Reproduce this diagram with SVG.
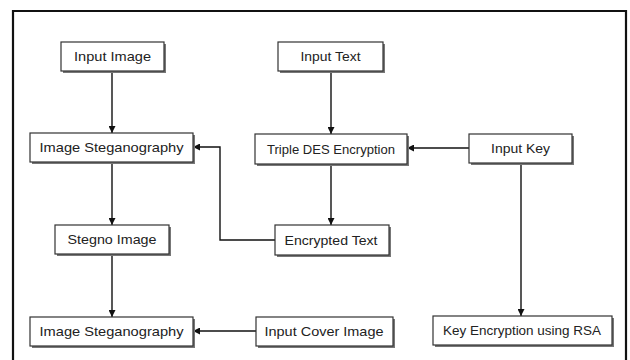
<svg xmlns="http://www.w3.org/2000/svg" width="630" height="360" viewBox="0 0 630 360">
<style>
.box{fill:#fff;stroke:#333;stroke-width:1.2}
.sh{fill:#777}
.t{font-family:"Liberation Sans","DejaVu Sans",sans-serif;font-size:13px;fill:#222;text-anchor:middle;dominant-baseline:central}
.c{fill:none;stroke:#111;stroke-width:1.4}
</style>
<defs>
<marker id="ah" viewBox="0 0 10 10" refX="10" refY="5" markerWidth="7" markerHeight="7" markerUnits="userSpaceOnUse" orient="auto">
<path d="M0,0 L10,5 L0,10 z" fill="#111"/>
</marker>
</defs>
<rect x="0" y="0" width="630" height="360" fill="#fff"/>
<path d="M13,372 L13,11 L626,11 L626,372" fill="none" stroke="#111" stroke-width="2.2"/>
<g id="connectors">
<line class="c" x1="112" y1="71" x2="112" y2="133" marker-end="url(#ah)"/>
<line class="c" x1="331" y1="71" x2="331" y2="134" marker-end="url(#ah)"/>
<line class="c" x1="469" y1="148" x2="407" y2="148" marker-end="url(#ah)"/>
<polyline class="c" points="275,240 220,240 220,147 193,147" marker-end="url(#ah)"/>
<line class="c" x1="112" y1="162" x2="112" y2="225" marker-end="url(#ah)"/>
<line class="c" x1="331" y1="164" x2="331" y2="225" marker-end="url(#ah)"/>
<line class="c" x1="112" y1="254" x2="112" y2="317" marker-end="url(#ah)"/>
<line class="c" x1="256" y1="331" x2="193" y2="331" marker-end="url(#ah)"/>
<line class="c" x1="521" y1="163" x2="521" y2="316" marker-end="url(#ah)"/>
</g>
<g id="input-image"><rect class="sh" x="63" y="44" width="103" height="29"/><rect class="box" x="61" y="42" width="103" height="29"/><text class="t" x="112.5" y="56.5" textLength="77" lengthAdjust="spacingAndGlyphs">Input Image</text></g>
<g id="input-text"><rect class="sh" x="280" y="44" width="105" height="29"/><rect class="box" x="278" y="42" width="105" height="29"/><text class="t" x="330.5" y="56.5" textLength="60" lengthAdjust="spacingAndGlyphs">Input Text</text></g>
<g id="image-steg-1"><rect class="sh" x="32" y="135" width="163" height="29"/><rect class="box" x="30" y="133" width="163" height="29"/><text class="t" x="111.5" y="147.5" textLength="144" lengthAdjust="spacingAndGlyphs">Image Steganography</text></g>
<g id="triple-des"><rect class="sh" x="257" y="136" width="152" height="30"/><rect class="box" x="255" y="134" width="152" height="30"/><text class="t" x="331" y="149" textLength="128" lengthAdjust="spacingAndGlyphs">Triple DES Encryption</text></g>
<g id="input-key"><rect class="sh" x="471" y="136" width="103" height="29"/><rect class="box" x="469" y="134" width="103" height="29"/><text class="t" x="520.5" y="148.5" textLength="59" lengthAdjust="spacingAndGlyphs">Input Key</text></g>
<g id="stegno-image"><rect class="sh" x="57" y="227" width="114" height="29"/><rect class="box" x="55" y="225" width="114" height="29"/><text class="t" x="112" y="239.5" textLength="89" lengthAdjust="spacingAndGlyphs">Stegno Image</text></g>
<g id="encrypted-text"><rect class="sh" x="277" y="227" width="114" height="30"/><rect class="box" x="275" y="225" width="114" height="30"/><text class="t" x="331" y="240" textLength="93" lengthAdjust="spacingAndGlyphs">Encrypted Text</text></g>
<g id="image-steg-2"><rect class="sh" x="32" y="319" width="163" height="29"/><rect class="box" x="30" y="317" width="163" height="29"/><text class="t" x="111.5" y="331.5" textLength="144" lengthAdjust="spacingAndGlyphs">Image Steganography</text></g>
<g id="input-cover-image"><rect class="sh" x="258" y="319" width="137" height="29"/><rect class="box" x="256" y="317" width="137" height="29"/><text class="t" x="324" y="331.5" textLength="119" lengthAdjust="spacingAndGlyphs">Input Cover Image</text></g>
<g id="key-encryption-rsa"><rect class="sh" x="435" y="318" width="179" height="29"/><rect class="box" x="433" y="316" width="179" height="29"/><text class="t" x="522" y="330.5" textLength="158" lengthAdjust="spacingAndGlyphs">Key Encryption using RSA</text></g>
</svg>
